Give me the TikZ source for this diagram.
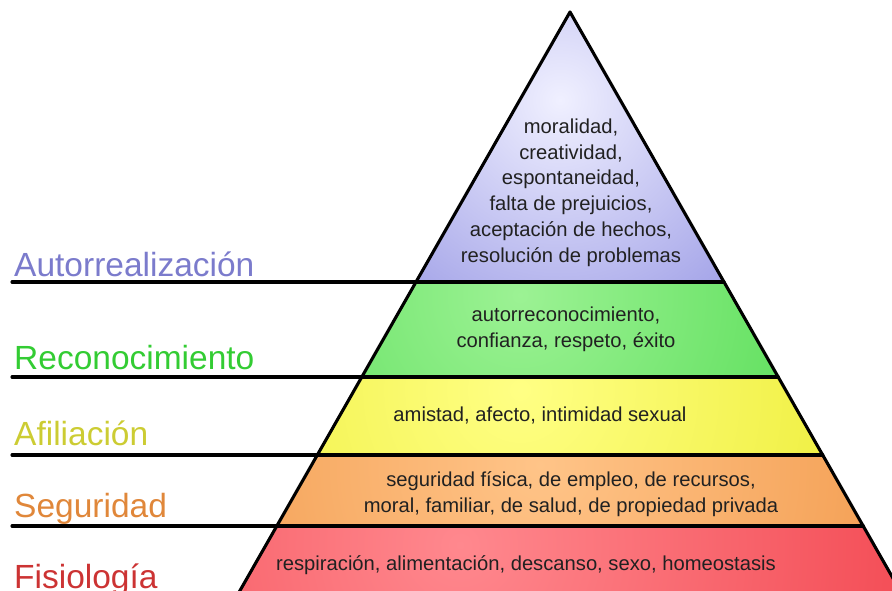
\documentclass[tikz,border=0pt]{standalone}
\usepackage{fontspec}
\setmainfont{Liberation Sans}
\definecolor{cA}{HTML}{7B7BCC}
\definecolor{cR}{HTML}{33CC33}
\definecolor{cF}{HTML}{CCCC33}
\definecolor{cS}{HTML}{E0873A}
\definecolor{cP}{HTML}{CC3333}
\definecolor{pIn}{HTML}{F0F0FF}
\definecolor{pOut}{HTML}{9090E2}
\definecolor{gIn}{HTML}{9CF294}
\definecolor{gOut}{HTML}{48D848}
\definecolor{yIn}{HTML}{FFFF84}
\definecolor{yOut}{HTML}{EAEA2C}
\definecolor{oIn}{HTML}{FFC488}
\definecolor{oOut}{HTML}{F09444}
\definecolor{rIn}{HTML}{FF888E}
\definecolor{rOut}{HTML}{F03C46}
\begin{document}
\begin{tikzpicture}[x=1pt,y=-1pt,
  edge/.style={draw=black, line width=3.1pt, line cap=round, line join=round},
  lbl/.style={anchor=base west, inner sep=0pt, font=\fontsize{33.5}{40}\selectfont},
  txt/.style={align=center, inner sep=0pt, text=black!87, font=\fontsize{20.2}{25.8}\selectfont}]
\useasboundingbox (0,0) rectangle (892,591);
\clip (0,0) rectangle (892,591);
% geometry
\coordinate (apex) at (570,12);
\coordinate (L1) at (416,282);   \coordinate (R1) at (724,282);
\coordinate (L2) at (361.8,377); \coordinate (R2) at (778.2,377);
\coordinate (L3) at (317.3,455); \coordinate (R3) at (822.7,455);
\coordinate (L4) at (276.8,526); \coordinate (R4) at (863.2,526);
\coordinate (L5) at (234.6,600); \coordinate (R5) at (905.4,600);
\coordinate (S1) at (12,282);
\coordinate (S2) at (12,377);
\coordinate (S3) at (12,455);
\coordinate (S4) at (12,526);
% fills (radial shading clipped to each band; outer colour reached at half the circle radius)
\begin{scope}
  \clip (apex) -- (R1) -- (L1) -- cycle;
  \shade[inner color=pIn, outer color=pOut] (560,100) circle (310);
\end{scope}
\begin{scope}
  \clip (L1) -- (R1) -- (R2) -- (L2) -- cycle;
  \shade[inner color=gIn, outer color=gOut] (520,295) circle (420);
\end{scope}
\begin{scope}
  \clip (L2) -- (R2) -- (R3) -- (L3) -- cycle;
  \shade[inner color=yIn, outer color=yOut] (520,390) circle (440);
\end{scope}
\begin{scope}
  \clip (L3) -- (R3) -- (R4) -- (L4) -- cycle;
  \shade[inner color=oIn, outer color=oOut] (540,465) circle (470);
\end{scope}
\begin{scope}
  \clip (L4) -- (R4) -- (R5) -- (L5) -- cycle;
  \shade[inner color=rIn, outer color=rOut] (460,545) circle (580);
\end{scope}
% outlines
\draw[edge] (L5) -- (apex) -- (R5);
\draw[edge] (S1) -- (R1);
\draw[edge] (S2) -- (R2);
\draw[edge] (S3) -- (R3);
\draw[edge] (S4) -- (R4);
% labels
\node[lbl, text=cA] (lA) at (14,276) {Autorrealización};
\node[lbl, text=cR] (lR) at (14,369) {Reconocimiento};
\node[lbl, text=cF] (lF) at (14,445) {Afiliación};
\node[lbl, text=cS] (lS) at (14,517) {Seguridad};
\node[lbl, text=cP] (lP) at (14,588) {Fisiología};
% band texts
\node[txt] (tA) at (571,192.5) {moralidad,\\creatividad,\\espontaneidad,\\falta de prejuicios,\\aceptación de hechos,\\resolución de problemas};
\node[txt] (tR) at (566,329.5) {autorreconocimiento,\\confianza, respeto, éxito};
\node[txt] (tF) at (540,415) {amistad, afecto, intimidad sexual};
\node[txt] (tS) at (571,494.5) {seguridad física, de empleo, de recursos,\\moral, familiar, de salud, de propiedad privada};
\node[txt] (tP) at (526,565) {respiración, alimentación, descanso, sexo, homeostasis};
\end{tikzpicture}
\end{document}
